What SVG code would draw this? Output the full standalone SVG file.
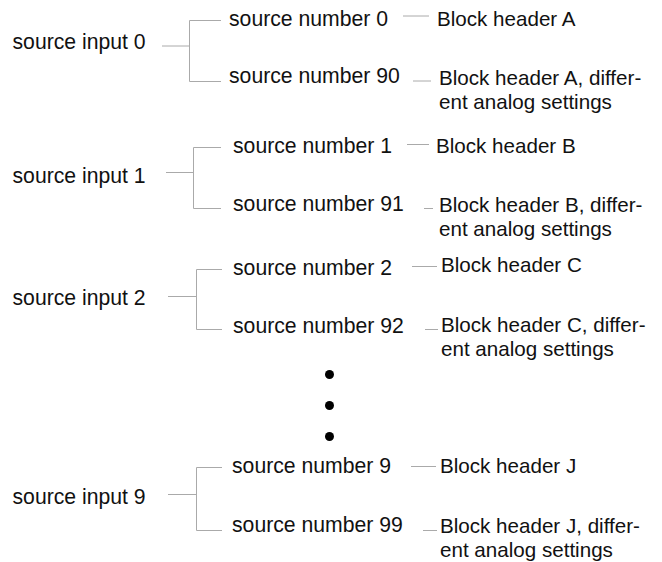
<svg xmlns="http://www.w3.org/2000/svg" width="662" height="562" viewBox="0 0 662 562">
<style>
text{font-family:"Liberation Sans",Arial,sans-serif;font-size:21.2px;fill:#111}
text.h{font-size:20.6px}
.c line{stroke:#aaa;stroke-width:1;fill:none}
.c polyline{stroke:#aaa;stroke-width:1;fill:none}
</style>
<rect width="662" height="562" fill="#fff"/>
<g class="c" id="connectors">
<line x1="162" y1="46" x2="189" y2="46"/>
<polyline points="221,20.5 189.5,20.5 189.5,81.5 221,81.5"/>
<line x1="403" y1="16" x2="429" y2="16"/>
<line x1="413" y1="81" x2="431" y2="81"/>
<line x1="166" y1="172.5" x2="193" y2="172.5"/>
<polyline points="221,147.5 193.5,147.5 193.5,208.5 221,208.5"/>
<line x1="407" y1="144.5" x2="429" y2="144.5"/>
<line x1="424" y1="208.5" x2="433" y2="208.5"/>
<line x1="168" y1="296.5" x2="196" y2="296.5"/>
<polyline points="222,269.5 196.5,269.5 196.5,329.5 222,329.5"/>
<line x1="412" y1="266.5" x2="437" y2="266.5"/>
<line x1="425" y1="329.5" x2="438" y2="329.5"/>
<line x1="168" y1="494.5" x2="196" y2="494.5"/>
<polyline points="222,467.5 196.5,467.5 196.5,530.5 222,530.5"/>
<line x1="411" y1="466.5" x2="436" y2="466.5"/>
<line x1="423" y1="530.5" x2="437" y2="530.5"/>
</g>
<g id="in0"><text x="12.5" y="49">source input 0</text></g>
<g id="n0"><text x="229" y="26">source number 0</text></g>
<g id="n90"><text x="229" y="83">source number 90</text></g>
<g id="hA"><text class="h" x="437" y="26">Block header A</text></g>
<g id="hA2"><text class="h" x="439" y="85">Block header A, differ-</text><text class="h" x="439" y="109">ent analog settings</text></g>
<g id="in1"><text x="12.5" y="183">source input 1</text></g>
<g id="n1"><text x="233" y="153">source number 1</text></g>
<g id="n91"><text x="233" y="211">source number 91</text></g>
<g id="hB"><text class="h" x="436" y="153">Block header B</text></g>
<g id="hB2"><text class="h" x="439" y="212">Block header B, differ-</text><text class="h" x="439" y="236">ent analog settings</text></g>
<g id="in2"><text x="12.5" y="305">source input 2</text></g>
<g id="n2"><text x="233" y="275">source number 2</text></g>
<g id="n92"><text x="233" y="333">source number 92</text></g>
<g id="hC"><text class="h" x="441" y="272">Block header C</text></g>
<g id="hC2"><text class="h" x="441" y="332">Block header C, differ-</text><text class="h" x="441" y="356">ent analog settings</text></g>
<g id="dots"><circle cx="329.5" cy="374.5" r="4.5" fill="#000"/><circle cx="329.5" cy="405.5" r="4.5" fill="#000"/><circle cx="329.5" cy="436.5" r="4.5" fill="#000"/></g>
<g id="in9"><text x="12.5" y="504">source input 9</text></g>
<g id="n9"><text x="232" y="473">source number 9</text></g>
<g id="n99"><text x="232" y="532">source number 99</text></g>
<g id="hJ"><text class="h" x="440" y="473">Block header J</text></g>
<g id="hJ2"><text class="h" x="440" y="533">Block header J, differ-</text><text class="h" x="440" y="557">ent analog settings</text></g>
</svg>
